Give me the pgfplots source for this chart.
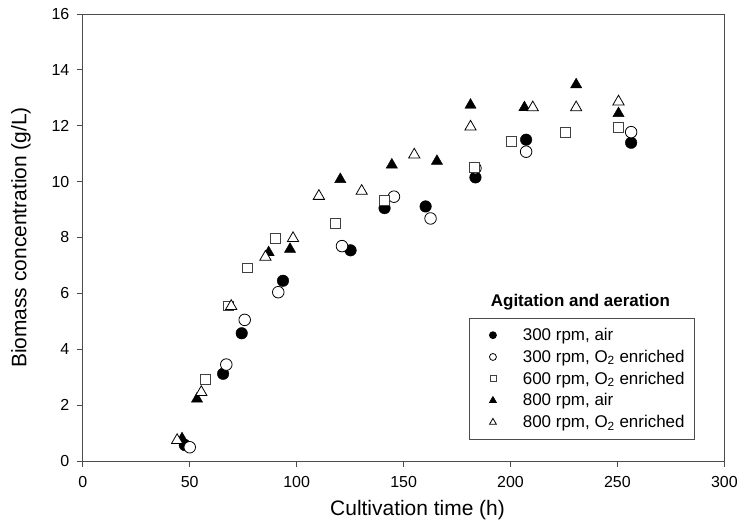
\documentclass[border=0pt]{standalone}
\usepackage{fontspec}
\setmainfont{Liberation Sans}
\usepackage{pgfplots}
\pgfplotsset{compat=1.18}
\begin{document}
\begin{tikzpicture}
\begin{axis}[
  scale only axis,
  width=643pt, height=448pt,
  xmin=0, xmax=300, ymin=0, ymax=16,
  xtick={0,50,...,300}, ytick={0,2,...,16},
  tick align=outside, tick pos=left,
  major tick length=6pt,
  axis line style={black!70, line width=0.8pt},
  every tick/.style={black!70, line width=0.8pt},
  /pgf/number format/assume math mode=true,
  ticklabel style={font=\fontsize{16}{18}\selectfont},
  xticklabel style={yshift=-6pt},
  yticklabel style={xshift=-4pt},
  xlabel={Cultivation time (h)},
  ylabel={Biomass concentration (g/L)},
  label style={font=\fontsize{21}{24}\selectfont},
  xlabel style={yshift=-6pt, xshift=14pt},
  ylabel style={yshift=14pt},
  legend cell align=left,
  legend style={at={(axis cs:180.4,5.12)}, anchor=north west,
    draw=black!70, line width=0.8pt, font=\fontsize{17}{19}\selectfont,
    inner xsep=4pt, inner ysep=9pt, row sep=6pt,
    nodes={inner xsep=6pt, inner ysep=1pt}},
  legend image code/.code={\draw[draw=none,mark repeat=2,mark phase=2,/tikz/every mark/.append style={scale=0.6}] plot coordinates {(0pt,0pt)(20pt,0pt)(44pt,0pt)};},
]
\addplot[draw=none, mark=*, mark size=5.8pt, mark options={draw=black, fill=black}] coordinates {
(47.7,0.57)(65.6,3.12)(74.3,4.57)(93.6,6.45)(125.2,7.54)(141.1,9.05)(160.3,9.11)(183.6,10.15)(207.3,11.5)(256.4,11.39)};
\addlegendentry{300 rpm, air}
\addplot[draw=none, mark=*, mark size=5.8pt, mark options={draw=black, fill=white, line width=0.8pt}] coordinates {
(50,0.49)(67.1,3.45)(75.7,5.05)(91.4,6.04)(121.2,7.69)(145.5,9.46)(162.6,8.68)(183.6,10.48)(207.3,11.07)(256.4,11.77)};
\addlegendentry{300 rpm, O\textsubscript{2} enriched}
\addplot[draw=none, mark=square*, mark size=5pt, mark options={draw=black!75, fill=white, line width=0.8pt}] coordinates {
(57.3,2.92)(67.9,5.55)(77,6.91)(90.2,7.95)(118.2,8.52)(141.1,9.32)(183.2,10.5)(200.3,11.45)(225.5,11.77)(250.5,11.95)};
\addlegendentry{600 rpm, O\textsubscript{2} enriched}
\addplot[draw=none, mark=triangle*, mark size=6.5pt, mark options={draw=black, fill=black}] coordinates {
(46.4,0.80)(53.4,2.22)(86.9,7.46)(96.9,7.58)(120.4,10.08)(144.5,10.6)(165.6,10.73)(181.3,12.74)(206.5,12.65)(230.7,13.47)(250.5,12.44)};
\addlegendentry{800 rpm, air}
\addplot[draw=none, mark=triangle*, mark size=6.5pt, mark options={draw=black, fill=white, line width=0.8pt}] coordinates {
(44.1,0.74)(55.4,2.46)(69.4,5.54)(85.4,7.3)(98.3,7.97)(110.4,9.48)(130.4,9.66)(155,10.96)(181.3,11.96)(210.4,12.65)(230.7,12.65)(250.5,12.86)};
\addlegendentry{800 rpm, O\textsubscript{2} enriched}
\node[font=\bfseries\fontsize{17}{19}\selectfont] at (axis cs:232.7,5.69) {Agitation and aeration};
\end{axis}
\path ([xshift=-83pt,yshift=-60pt]current axis.south west) rectangle ([xshift=15pt,yshift=14pt]current axis.north east);
\end{tikzpicture}
\end{document}
